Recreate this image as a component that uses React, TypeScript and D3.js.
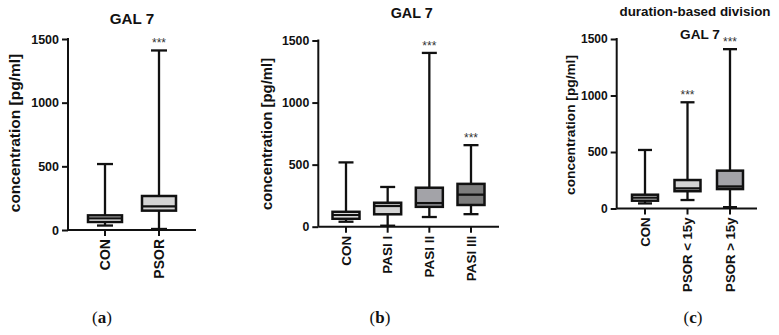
import React, { useEffect, useRef } from 'react';
import * as d3 from 'd3';

// box stats per group: [min, q1, median, q3, max]
const groupsA = ['CON', 'PSOR'];
const statsA = [
  [35, 63, 92, 115, 518],
  [8, 152, 185, 267, 1410],
];
const fillsA = ['#ffffff', '#d4d4d4'];
const starsA = ['', '***'];

const groupsB = ['CON', 'PASI I', 'PASI II', 'PASI III'];
const statsB = [
  [40, 64, 94, 120, 518],
  [8, 100, 167, 193, 320],
  [78, 160, 190, 314, 1400],
  [101, 175, 258, 345, 657],
];
const fillsB = ['#ffffff', '#d4d4d4', '#a3a3a8', '#7d7d7d'];
const starsB = ['', '', '***', '***'];

const groupsC = ['CON', 'PSOR < 15y', 'PSOR > 15y'];
const statsC = [
  [45, 69, 96, 122, 518],
  [75, 153, 178, 252, 940],
  [12, 172, 195, 335, 1410],
];
const fillsC = ['#ffffff', '#d4d4d4', '#a3a3a8'];
const starsC = ['', '***', '***'];

const yTicks = [0, 500, 1000, 1500];
const yLabel = 'concentration [pg/ml]';
const title = 'GAL 7';

const panels = [
  {
    groups: groupsA, stats: statsA, fills: fillsA, stars: starsA, tag: 'a',
    axisX: 68, y0: 230, y1: 39, xEnd: 196, c0: 105, c1: 159,
    boxW: 34, capW: 16, tickFont: 12.5, labelFont: 15.5, catFont: 14,
    titleFont: 15.2, titleX: 132, titleY: 23.5,
    yLabX: 15, yLabY: 133, tagX: 102,
  },
  {
    groups: groupsB, stats: statsB, fills: fillsB, stars: starsB, tag: 'b',
    axisX: 318.3, y0: 226.7, y1: 40.5, xEnd: 499, c0: 346, c1: 471,
    boxW: 27, capW: 15, tickFont: 12.3, labelFont: 14.9, catFont: 13.5,
    titleFont: 14.4, titleX: 411.7, titleY: 18,
    yLabX: 266.5, yLabY: 134, tagX: 380,
  },
  {
    groups: groupsC, stats: statsC, fills: fillsC, stars: starsC, tag: 'c',
    axisX: 616.7, y0: 208.5, y1: 39, xEnd: 757, c0: 645, c1: 730,
    boxW: 26, capW: 14, tickFont: 12, labelFont: 13.7, catFont: 13.2,
    titleFont: 13.6, titleX: 700, titleY: 38.5,
    yLabX: 570, yLabY: 125, tagX: 693,
    subtitle: 'duration-based division', subFont: 13.4, subX: 695, subY: 16,
  },
];

const sans = '"Liberation Sans", Arial, sans-serif';
const ink = '#111';

function App() {
  const ref = useRef(null);

  useEffect(() => {
    const element = ref.current;
    if (!element) return;
    element.innerHTML = '';

    const svg = d3
      .select(element)
      .append('svg')
      .attr('width', 779)
      .attr('height', 335)
      .style('position', 'absolute')
      .style('left', 0)
      .style('top', 0)
      .style('background', '#fff');

    panels.forEach((p) => {
      const g = svg.append('g');
      const y = d3.scaleLinear().domain([0, 1500]).range([p.y0, p.y1]);
      const x = d3.scalePoint().domain(p.groups).range([p.c0, p.c1]);

      // y axis
      const yAxis = g
        .append('g')
        .attr('transform', `translate(${p.axisX},0)`)
        .call(d3.axisLeft(y).tickValues(yTicks).tickSize(6).tickPadding(3).tickFormat(d3.format('d')));
      yAxis.select('.domain').attr('stroke', ink).attr('stroke-width', 2).attr('d', `M0,${p.y0}V${p.y1 - 1}`);
      yAxis.selectAll('.tick line').attr('stroke', ink).attr('stroke-width', 2);
      yAxis
        .selectAll('.tick text')
        .attr('fill', ink)
        .style('font-family', sans)
        .style('font-size', `${p.tickFont}px`)
        .style('font-weight', 'bold');

      // x axis
      g.append('line')
        .attr('x1', p.axisX)
        .attr('x2', p.xEnd)
        .attr('y1', p.y0)
        .attr('y2', p.y0)
        .attr('stroke', ink)
        .attr('stroke-width', 2);
      g.selectAll('line.xtick')
        .data(p.groups)
        .join('line')
        .attr('class', 'xtick')
        .attr('x1', (d) => x(d))
        .attr('x2', (d) => x(d))
        .attr('y1', p.y0)
        .attr('y2', p.y0 + 6)
        .attr('stroke', ink)
        .attr('stroke-width', 2);
      g.selectAll('text.cat')
        .data(p.groups)
        .join('text')
        .attr('class', 'cat')
        .attr('transform', (d) => `translate(${x(d)},${p.y0 + 9}) rotate(-90)`)
        .attr('dy', '0.35em')
        .attr('text-anchor', 'end')
        .attr('fill', ink)
        .style('font-family', sans)
        .style('font-size', `${p.catFont}px`)
        .style('font-weight', 'bold')
        .text((d) => d);

      // boxes and whiskers
      const rows = p.groups.map((name, i) => ({ name, s: p.stats[i], fill: p.fills[i], star: p.stars[i] }));
      const box = g.selectAll('g.box').data(rows).join('g').attr('class', 'box');
      box
        .append('line')
        .attr('x1', (d) => x(d.name))
        .attr('x2', (d) => x(d.name))
        .attr('y1', (d) => y(d.s[0]))
        .attr('y2', (d) => y(d.s[4]))
        .attr('stroke', ink)
        .attr('stroke-width', 2.3);
      [0, 4].forEach((k) => {
        box
          .append('line')
          .attr('x1', (d) => x(d.name) - p.capW / 2)
          .attr('x2', (d) => x(d.name) + p.capW / 2)
          .attr('y1', (d) => y(d.s[k]))
          .attr('y2', (d) => y(d.s[k]))
          .attr('stroke', ink)
          .attr('stroke-width', 2.3);
      });
      box
        .append('rect')
        .attr('x', (d) => x(d.name) - p.boxW / 2)
        .attr('width', p.boxW)
        .attr('y', (d) => y(d.s[3]))
        .attr('height', (d) => y(d.s[1]) - y(d.s[3]))
        .attr('fill', (d) => d.fill)
        .attr('stroke', ink)
        .attr('stroke-width', 2.5);
      box
        .append('line')
        .attr('x1', (d) => x(d.name) - p.boxW / 2)
        .attr('x2', (d) => x(d.name) + p.boxW / 2)
        .attr('y1', (d) => y(d.s[2]))
        .attr('y2', (d) => y(d.s[2]))
        .attr('stroke', ink)
        .attr('stroke-width', 2.3);
      box
        .append('text')
        .attr('x', (d) => x(d.name))
        .attr('y', (d) => y(d.s[4]) - 3)
        .attr('text-anchor', 'middle')
        .attr('fill', '#333')
        .style('font-family', sans)
        .style('font-size', '12px')
        .text((d) => d.star);

      // titles
      g.append('text')
        .attr('x', p.titleX)
        .attr('y', p.titleY)
        .attr('text-anchor', 'middle')
        .attr('fill', ink)
        .style('font-family', sans)
        .style('font-size', `${p.titleFont}px`)
        .style('font-weight', 'bold')
        .text(title);
      if (p.subtitle) {
        g.append('text')
          .attr('x', p.subX)
          .attr('y', p.subY)
          .attr('text-anchor', 'middle')
          .attr('fill', ink)
          .style('font-family', sans)
          .style('font-size', `${p.subFont}px`)
          .style('font-weight', 'bold')
          .text(p.subtitle);
      }

      g.append('text')
        .attr('transform', `translate(${p.yLabX},${p.yLabY}) rotate(-90)`)
        .attr('dy', '0.35em')
        .attr('text-anchor', 'middle')
        .attr('fill', ink)
        .style('font-family', sans)
        .style('font-size', `${p.labelFont}px`)
        .style('font-weight', 'bold')
        .text(yLabel);

      // panel tag, e.g. (a)
      const tag = g
        .append('text')
        .attr('x', p.tagX)
        .attr('y', 323)
        .attr('text-anchor', 'middle')
        .attr('fill', ink)
        .style('font-family', '"Liberation Serif", "DejaVu Serif", serif')
        .style('font-size', '17px');
      tag.append('tspan').text('(');
      tag.append('tspan').style('font-weight', 'bold').text(p.tag);
      tag.append('tspan').text(')');
    });
  }, []);

  return <div ref={ref} style={{ width: 779, height: 335 }} />;
}

export default App;
